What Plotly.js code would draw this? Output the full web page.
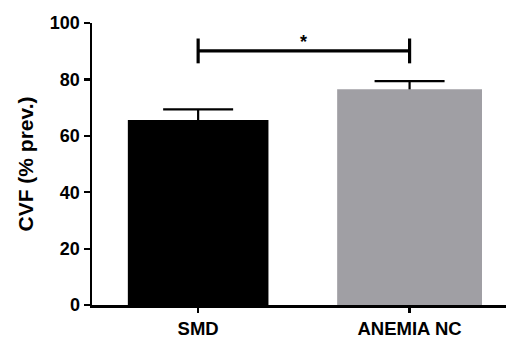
<!DOCTYPE html>
<html>
<head>
<meta charset="utf-8">
<script src="https://cdn.plot.ly/plotly-3.0.1.min.js"></script>
<style>html,body{margin:0;padding:0;background:#fff;}#chart{width:506px;height:338px;}</style>
</head>
<body>
<div id="chart"></div>
<script>
// ---- data ----
const categories = ["SMD", "ANEMIA NC"];
const means = [65.6, 76.5];
const sem = [3.8, 2.9];
const barColors = ["#000000", "#a09fa4"];
const barWidths = [0.665, 0.685];
const yTickVals = [0, 20, 40, 60, 80, 100];
const yTickText = ["0", "20", "40", "60", "80", "100"];
const sigPair = [0, 1];      // category indices compared
const sigLevel = [90.1];     // bracket height
const sigEnd = [4.4];        // bracket end half-height
const sigLabel = ["*"];

const FONT = "Liberation Sans, Arial, sans-serif";

// error bars drawn behind the bars (lower half hidden by the bar)
const errTrace = {
  type: "bar",
  x: categories,
  y: means,
  width: barWidths,
  marker: { color: "rgba(0,0,0,0)", line: { width: 0 } },
  error_y: {
    type: "data", array: sem, symmetric: true,
    visible: true, color: "#000", thickness: 2.2, width: 35
  },
  hoverinfo: "none"
};

const barTrace = {
  type: "bar",
  x: categories,
  y: means,
  width: barWidths,
  marker: { color: barColors, line: { width: 0 } },
  hoverinfo: "none"
};

const x0 = sigPair[0], x1 = sigPair[1], yb = sigLevel[0], e = sigEnd[0];
const lineStyle = { color: "#000", width: 3.2 };
const shapes = [
  { type: "line", xref: "x", yref: "y", x0: x0, x1: x1, y0: yb, y1: yb, line: lineStyle },
  { type: "line", xref: "x", yref: "y", x0: x0, x1: x0, y0: yb - e, y1: yb + e, line: lineStyle },
  { type: "line", xref: "x", yref: "y", x0: x1, x1: x1, y0: yb - e, y1: yb + e, line: lineStyle }
];

const layout = {
  width: 506, height: 338,
  margin: { l: 92, r: 0, t: 23, b: 33 },
  paper_bgcolor: "#fff", plot_bgcolor: "#fff",
  showlegend: false,
  barmode: "overlay",
  font: { family: FONT, color: "#000" },
  xaxis: {
    type: "category",
    range: [-0.502, 1.456],
    showline: true, linecolor: "#000", linewidth: 2.5,
    ticks: "outside", ticklen: 5, tickwidth: 2.2, tickcolor: "#000",
    showgrid: false, zeroline: false,
    tickfont: { family: FONT, size: 18.5, weight: "bold", color: "#000" },
    fixedrange: true
  },
  yaxis: {
    range: [0, 100],
    tickvals: yTickVals, ticktext: yTickText,
    showline: true, linecolor: "#000", linewidth: 2.5,
    ticks: "outside", ticklen: 6, tickwidth: 2.2, tickcolor: "#000",
    showgrid: false, zeroline: false,
    tickfont: { family: FONT, size: 18, weight: "bold", color: "#000" },
    title: { text: "CVF (% prev.)", standoff: 11, font: { family: FONT, size: 21, weight: "bold", color: "#000" } },
    fixedrange: true
  },
  shapes: shapes,
  annotations: [{
    xref: "x", yref: "y", x: (x0 + x1) / 2, y: yb - 1.0,
    text: sigLabel[0], showarrow: false, yanchor: "bottom",
    font: { family: FONT, size: 18, weight: "bold", color: "#000" }
  }]
};

Plotly.newPlot("chart", [errTrace, barTrace], layout, { displayModeBar: false, staticPlot: true });
</script>
</body>
</html>
